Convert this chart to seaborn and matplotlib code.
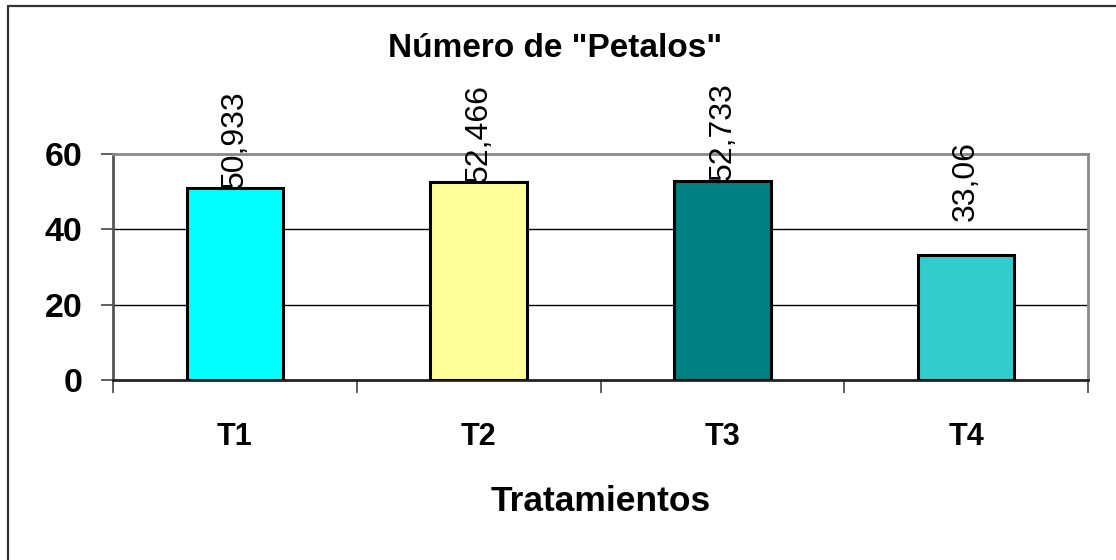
import matplotlib
matplotlib.use("Agg")
import matplotlib.pyplot as plt
from matplotlib.lines import Line2D
import seaborn as sns
import pandas as pd

categories = ["T1", "T2", "T3", "T4"]
values = [50.933, 52.466, 52.733, 33.06]
value_labels = ["50,933", "52,466", "52,733", "33,06"]
colors = ["#00FFFF", "#FFFF99", "#008080", "#33CCCC"]
yticks = [0, 20, 40, 60]
title = 'Número de "Petalos"'
xlabel = "Tratamientos"

sns.set_theme(style="white")
plt.rcParams["font.family"] = ["Liberation Sans", "DejaVu Sans"]
plt.rcParams["text.color"] = "black"
plt.rcParams["axes.labelcolor"] = "black"
plt.rcParams["xtick.color"] = "black"
plt.rcParams["ytick.color"] = "black"

W, H = 1116, 560
fig = plt.figure(figsize=(W / 100, H / 100), dpi=100)
fig.patch.set_facecolor("white")
ax = fig.add_axes([113 / W, 1 - 380 / H, (1088 - 113) / W, (380 - 154) / H])

df = pd.DataFrame({"cat": categories, "val": values})
sns.barplot(data=df, x="cat", y="val", hue="cat", palette=colors, legend=False,
            width=0.395, edgecolor="black", linewidth=2.2, saturation=1, ax=ax, zorder=3)

ax.set_xlim(-0.5, len(categories) - 0.5)
ax.set_ylim(0, 60)
ax.set_yticks(yticks)
ax.set_yticklabels([str(t) for t in yticks], fontsize=24.5, fontweight="bold", color="black")
ax.set_xticks(range(len(categories)))
ax.set_xticklabels(categories, fontsize=22, fontweight="bold", color="black")
ax.set_xticks([i - 0.5 for i in range(len(categories) + 1)], minor=True)
ax.tick_params(axis="x", which="major", length=0, pad=30)
ax.tick_params(axis="x", which="minor", length=9, width=1.2, color="#444444", direction="out", bottom=True)
ax.tick_params(axis="y", which="major", length=9, width=1.2, color="#444444", direction="out", left=True, pad=13)

for y in yticks[1:-1]:
    ax.axhline(y, color="black", linewidth=1.0, zorder=1)

for side in ["top", "right", "left"]:
    ax.spines[side].set_color("#888888")
    ax.spines[side].set_linewidth(2)
ax.spines["left"].set_color("#555555")
ax.spines["bottom"].set_color("#222222")
ax.spines["bottom"].set_linewidth(2)

ax.set_xlabel(xlabel, fontsize=25.5, fontweight="bold", labelpad=24, color="black")
ax.set_ylabel("")

offsets = [0, 0, 1, 25]
for i, (v, lab) in enumerate(zip(values, value_labels)):
    ax.annotate(lab, xy=(i, v), xytext=(0, offsets[i]), textcoords="offset points",
                rotation=90, ha="center", va="bottom", fontsize=23, color="black",
                annotation_clip=False, zorder=5)

fig.text(555 / W, 1 - 57 / H, title, ha="center", va="baseline",
         fontsize=24, fontweight="bold", color="black")

fig.add_artist(Line2D([8 / W, 8 / W], [0, 1 - 6 / H], color="#333333", linewidth=1.6))
fig.add_artist(Line2D([8 / W, 1], [1 - 6 / H, 1 - 6 / H], color="#333333", linewidth=1.6))

fig.savefig("out.png", dpi=100, facecolor="white")
